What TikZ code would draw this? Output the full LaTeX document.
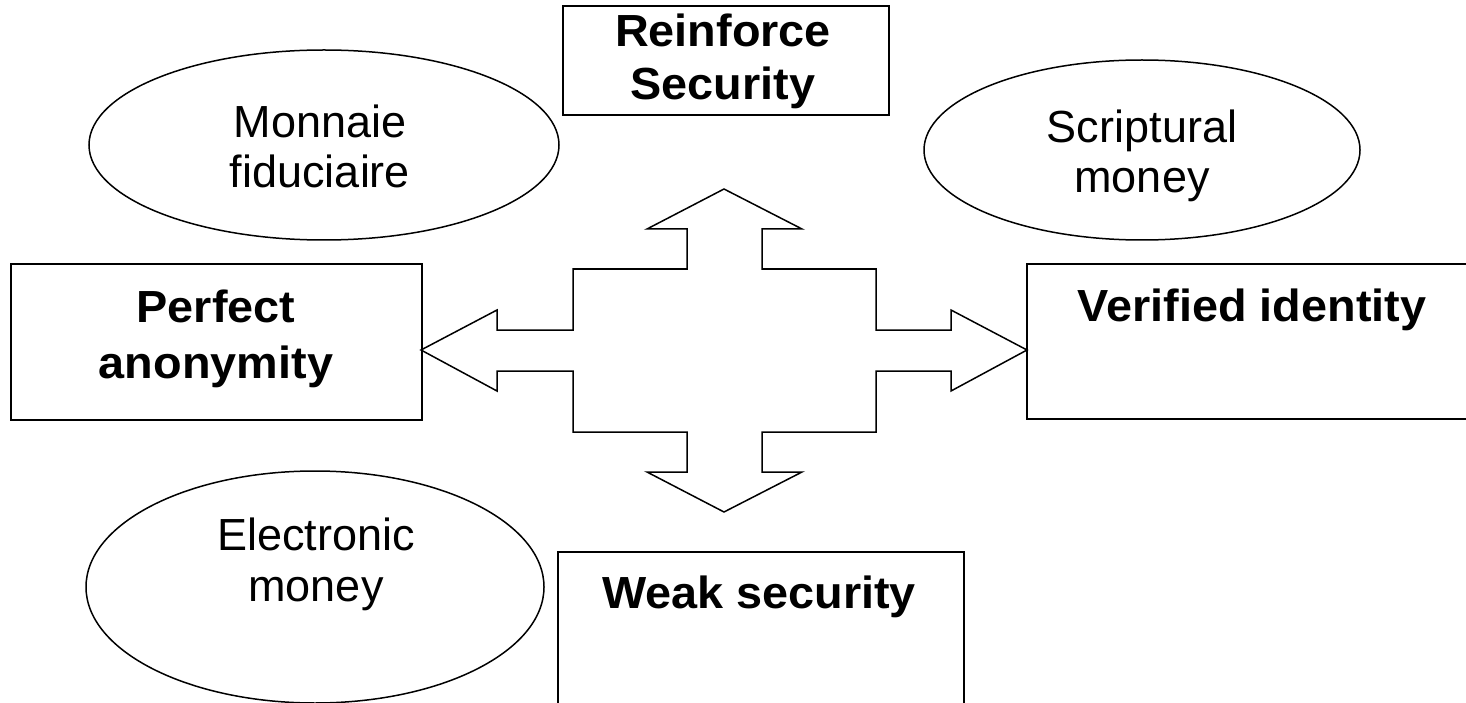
\documentclass[tikz,border=0pt]{standalone}
\usepackage{fontspec}
\setmainfont{Liberation Sans}
\newfontfamily\regf{Liberation Sans}
\newfontfamily\boldf[FakeStretch=1.04]{Liberation Sans Bold}
\usetikzlibrary{shapes.geometric}
\begin{document}
\begin{tikzpicture}[x=1pt,y=-1pt, line width=1.5pt,
  box/.style={draw, rectangle, inner sep=0pt, outer sep=0pt, anchor=north west},
  oval/.style={draw, ellipse, inner sep=0pt, outer sep=0pt},
  reg/.style={anchor=base, inner sep=0pt, font=\regf\fontsize{45}{52}\selectfont},
  bld/.style={anchor=base, inner sep=0pt, font=\boldf\fontsize{45}{54}\selectfont}]
\fill[white] (0,0) rectangle (1466,703);
\useasboundingbox (0,0) rectangle (1466,703);
\clip (0,0) rectangle (1466,703);

% boxes
\node[box, minimum width=326pt, minimum height=109pt] (reinf) at (563,6) {};
\node[box, minimum width=411pt, minimum height=156pt] (perf) at (11,264) {};
\node[box, minimum width=450pt, minimum height=155pt] (verif) at (1027,264) {};
\node[box, minimum width=406pt, minimum height=160pt] (weak) at (558,552) {};

% ellipses
\node[oval, minimum width=470pt, minimum height=190pt] (monn) at (324,145) {};
\node[oval, minimum width=436pt, minimum height=180pt] (scrip) at (1142,150) {};
\node[oval, minimum width=458pt, minimum height=232pt] (elec) at (315,587) {};

% cross arrow
\draw[line join=miter] (724,189) -- (802,229) -- (762,229) -- (762,269) -- (876,269)
  -- (876,330) -- (951,330) -- (951,310) -- (1027,350) -- (951,391) -- (951,371)
  -- (876,371) -- (876,432) -- (762,432) -- (762,472) -- (802,472) -- (724,512)
  -- (647,472) -- (687,472) -- (687,432) -- (573,432) -- (573,371) -- (497,371)
  -- (497,391) -- (421,350) -- (497,310) -- (497,330) -- (573,330) -- (573,269)
  -- (687,269) -- (687,229) -- (647,229) -- cycle;

% texts
\node[bld] (t1) at (723,47) {Reinforce};
\node[bld] (t2) at (723,100) {Security};
\node[bld] (t3) at (216,322) {Perfect};
\node[bld] (t4) at (216,378) {anonymity};
\node[bld] (t5) at (1252,321) {Verified identity};
\node[bld] (t6) at (759,608) {Weak security};
\node[reg] (t7) at (320,138) {Monnaie};
\node[reg] (t8) at (320,188) {fiduciaire};
\node[reg] (t9) at (1142,143) {Scriptural};
\node[reg] (t10) at (1142,193) {money};
\node[reg] (t11) at (316,550) {Electronic};
\node[reg] (t12) at (316,601) {money};
\end{tikzpicture}
\end{document}
